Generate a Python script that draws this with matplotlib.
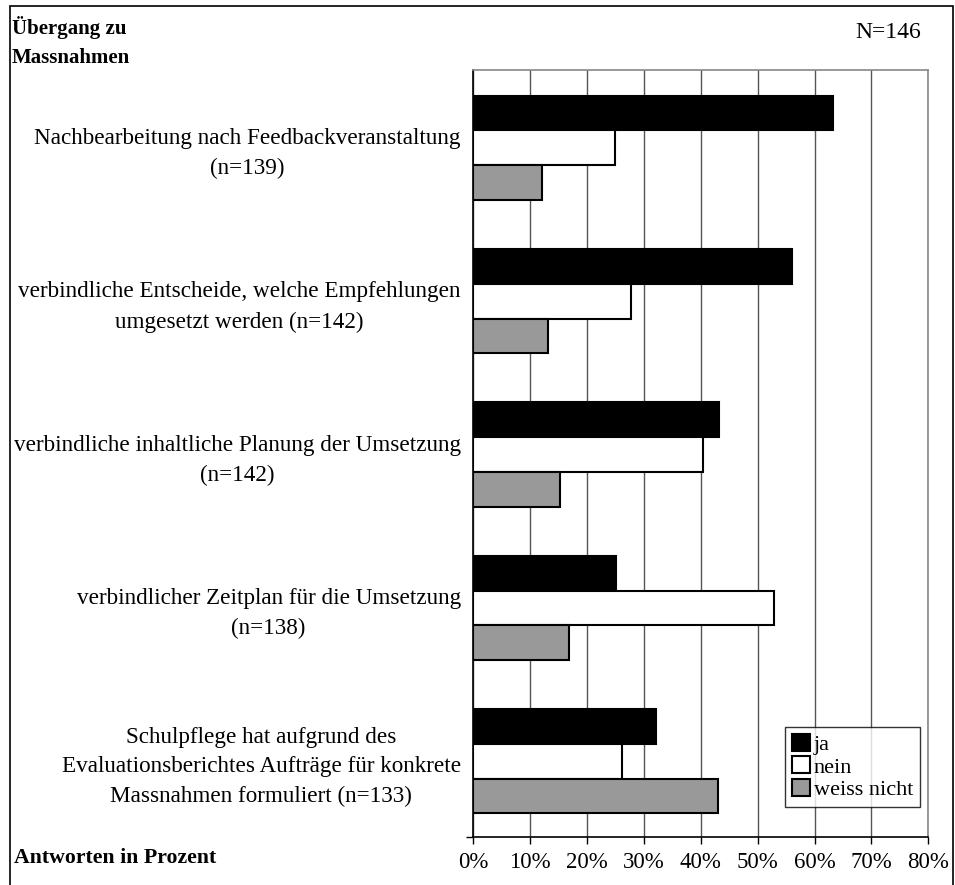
import matplotlib
matplotlib.use("Agg")
import matplotlib.pyplot as plt
from matplotlib.patches import Rectangle
import numpy as np

categories = [
    "Nachbearbeitung nach Feedbackveranstaltung\n(n=139)",
    "verbindliche Entscheide, welche Empfehlungen\numgesetzt werden (n=142)",
    "verbindliche inhaltliche Planung der Umsetzung\n(n=142)",
    "verbindlicher Zeitplan für die Umsetzung\n(n=138)",
    "Schulpflege hat aufgrund des\nEvaluationsberichtes Aufträge für konkrete\nMassnahmen formuliert (n=133)",
]
series_names = ["ja", "nein", "weiss nicht"]
ja = [63.2, 56.1, 43.2, 25.1, 32.2]
nein = [25.0, 27.8, 40.3, 52.9, 26.1]
weiss_nicht = [12.1, 13.1, 15.2, 16.9, 43.1]
xticks = [0, 10, 20, 30, 40, 50, 60, 70, 80]
xtick_labels = ["0%", "10%", "20%", "30%", "40%", "50%", "60%", "70%", "80%"]

FONT = "Liberation Serif"
plt.rcParams["font.family"] = [FONT, "DejaVu Serif"]

W, H = 955, 885
fig = plt.figure(figsize=(W / 100, H / 100), dpi=100)

L, R, T, B = 473.3, 928.3, 70, 836.7
ax = fig.add_axes([L / W, 1 - B / H, (R - L) / W, (B - T) / H])

y = np.arange(len(categories))
h = 0.227
colors = ["#000000", "#ffffff", "#999999"]
for k, (vals, c) in enumerate(zip([ja, nein, weiss_nicht], colors)):
    ax.barh(y + (k - 1) * h + 0.008, vals, height=h, color=c, edgecolor="black",
            linewidth=1.5, label=series_names[k], zorder=3)

ax.set_xlim(0, 80)
ax.set_ylim(len(categories) - 0.5, -0.5)
ax.set_xticks(xticks)
ax.set_xticklabels(xtick_labels, fontsize=16.5)
ax.set_yticks(y)
ax.set_yticklabels(categories, fontsize=16.7)
for t in ax.get_yticklabels():
    t.set_multialignment("center")
    t.set_linespacing(1.55)
ax.set_yticks([len(categories) - 0.5], minor=True)
ax.tick_params(axis="y", which="major", length=0, pad=9)
ax.tick_params(axis="y", which="minor", length=5, width=1, direction="out")
ax.tick_params(axis="x", length=5, width=1, direction="out", pad=6)

ax.grid(axis="x", color="#555555", linewidth=1, zorder=0)
ax.set_axisbelow(True)
for s in ["top", "right"]:
    ax.spines[s].set_color("#888888")
    ax.spines[s].set_linewidth(1.2)
for s in ["left", "bottom"]:
    ax.spines[s].set_color("black")
    ax.spines[s].set_linewidth(1.2)

leg = ax.legend(loc="lower right", bbox_to_anchor=((920 - L) / (R - L), (B - 806.7) / (B - T)),
                fontsize=16, frameon=True, fancybox=False, handlelength=0.8,
                handleheight=0.8, handletextpad=0.2, labelspacing=0.05,
                borderpad=0.3, borderaxespad=0)
leg.get_frame().set_edgecolor("black")
leg.get_frame().set_linewidth(1)

fig.text(12 / W, 1 - 42 / H, "Übergang zu\nMassnahmen", fontsize=15, fontweight="bold",
         ha="left", va="center", linespacing=1.6)
fig.text(921 / W, 1 - 33 / H, "N=146", fontsize=17, ha="right", va="center")
fig.text(14 / W, 1 - 858 / H, "Antworten in Prozent", fontsize=15.7, fontweight="bold",
         ha="left", va="center")

fig.patches.append(Rectangle((10 / W, -0.05), (953 - 10) / W, 1.05 - 6 / H,
                             transform=fig.transFigure, fill=False,
                             edgecolor="black", linewidth=1.2))

fig.savefig("out.png", dpi=100)
